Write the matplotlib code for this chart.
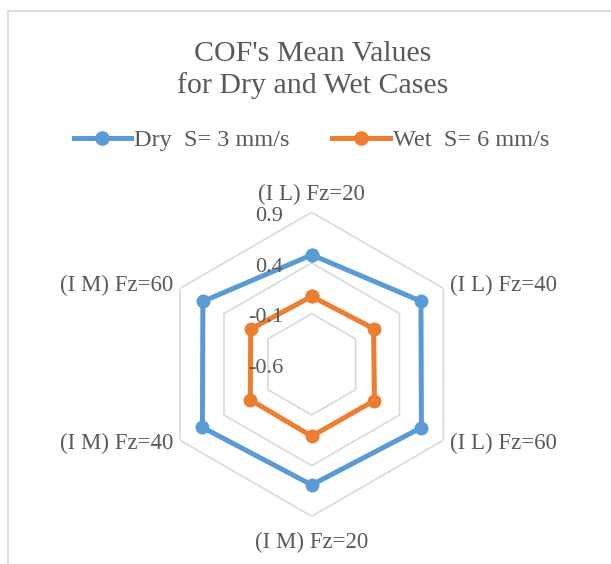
import numpy as np
import matplotlib.pyplot as plt
from matplotlib.patches import Rectangle
from matplotlib.lines import Line2D

# Data
categories = ['(I L) Fz=20', '(I L) Fz=40', '(I L) Fz=60',
              '(I M) Fz=20', '(I M) Fz=40', '(I M) Fz=60']
dry_values = [0.48, 0.645, 0.65, 0.59, 0.645, 0.64]
wet_values = [0.07, 0.105, 0.115, 0.11, 0.10, 0.095]
tick_values = [0.9, 0.4, -0.1, -0.6]
series_names = ['Dry  S= 3 mm/s', 'Wet  S= 6 mm/s']

R_MIN, R_MAX = -0.6, 0.9
DRY_COLOR = '#5B9BD5'
WET_COLOR = '#ED7D31'
GRID_COLOR = '#D9D9D9'
TEXT_COLOR = '#595959'
FONT = 'Liberation Serif'

fig = plt.figure(figsize=(6.11, 5.64), dpi=100)
fig.patch.set_facecolor('white')

# outer chart border (cropped on right/bottom in reference)
fig.patches.append(Rectangle((8 / 611, -0.1), 1.2, 1 - 11 / 564 + 0.1,
                             transform=fig.transFigure, fill=False,
                             edgecolor=GRID_COLOR, linewidth=1.2))

cx, cy, rad = 311.7 / 611, 1 - 364.3 / 564, 152
ax = fig.add_axes([cx - rad / 611, cy - rad / 564, 2 * rad / 611, 2 * rad / 564],
                  projection='polar')
ax.set_theta_zero_location('N')
ax.set_theta_direction(-1)
ax.set_rlim(R_MIN, R_MAX)
ax.grid(False)
ax.spines['polar'].set_visible(False)
ax.set_xticks([])
ax.set_yticks([])
ax.patch.set_alpha(0)

n = len(categories)
theta = np.arange(n) * 2 * np.pi / n
theta_closed = np.append(theta, theta[0])

# hexagonal grid rings
for tv in tick_values:
    ax.plot(theta_closed, [tv] * (n + 1), color=GRID_COLOR, lw=1.2, zorder=1)

for vals, col in [(dry_values, DRY_COLOR), (wet_values, WET_COLOR)]:
    ax.plot(theta_closed, vals + vals[:1], color=col, lw=3.6,
            marker='o', markersize=9, zorder=3, clip_on=False)

# tick labels along vertical axis
for tv in tick_values:
    ax.annotate(f'{tv:g}', xy=(0, tv), xytext=(-20.5, -3), textcoords='offset points',
                ha='right', va='center', fontsize=16, color=TEXT_COLOR,
                family=FONT, annotation_clip=False)

# category labels
offsets = [(0, 13, 'center', 'center'), (5, 2, 'left', 'center'),
           (5, -2, 'left', 'center'), (0, -19, 'center', 'center'),
           (-5, -2, 'right', 'center'), (-5, 2, 'right', 'center')]
for t, lab, (dx, dy, ha, va) in zip(theta, categories, offsets):
    ax.annotate(lab, xy=(t, R_MAX), xytext=(dx, dy), textcoords='offset points',
                ha=ha, va=va, fontsize=16.5, color=TEXT_COLOR, family=FONT,
                annotation_clip=False)

fig.text(0.511, 1 - 61 / 564, "COF's Mean Values", ha='center', va='baseline',
         fontsize=21.5, color=TEXT_COLOR, family=FONT)
fig.text(0.511, 1 - 93 / 564, 'for Dry and Wet Cases', ha='center', va='baseline',
         fontsize=21.5, color=TEXT_COLOR, family=FONT)

handles = [Line2D([], [], color=DRY_COLOR, lw=3.6, marker='o', markersize=9.5),
           Line2D([], [], color=WET_COLOR, lw=3.6, marker='o', markersize=9.5)]
fig.legend(handles, series_names, loc='center', bbox_to_anchor=(0.51, 1 - 140 / 564),
           ncol=2, frameon=False, handlelength=2.35, handletextpad=0.15,
           columnspacing=1.75, prop={'family': FONT, 'size': 17.5},
           labelcolor=TEXT_COLOR, borderaxespad=0, borderpad=0)

fig.savefig('out.png', dpi=100)
